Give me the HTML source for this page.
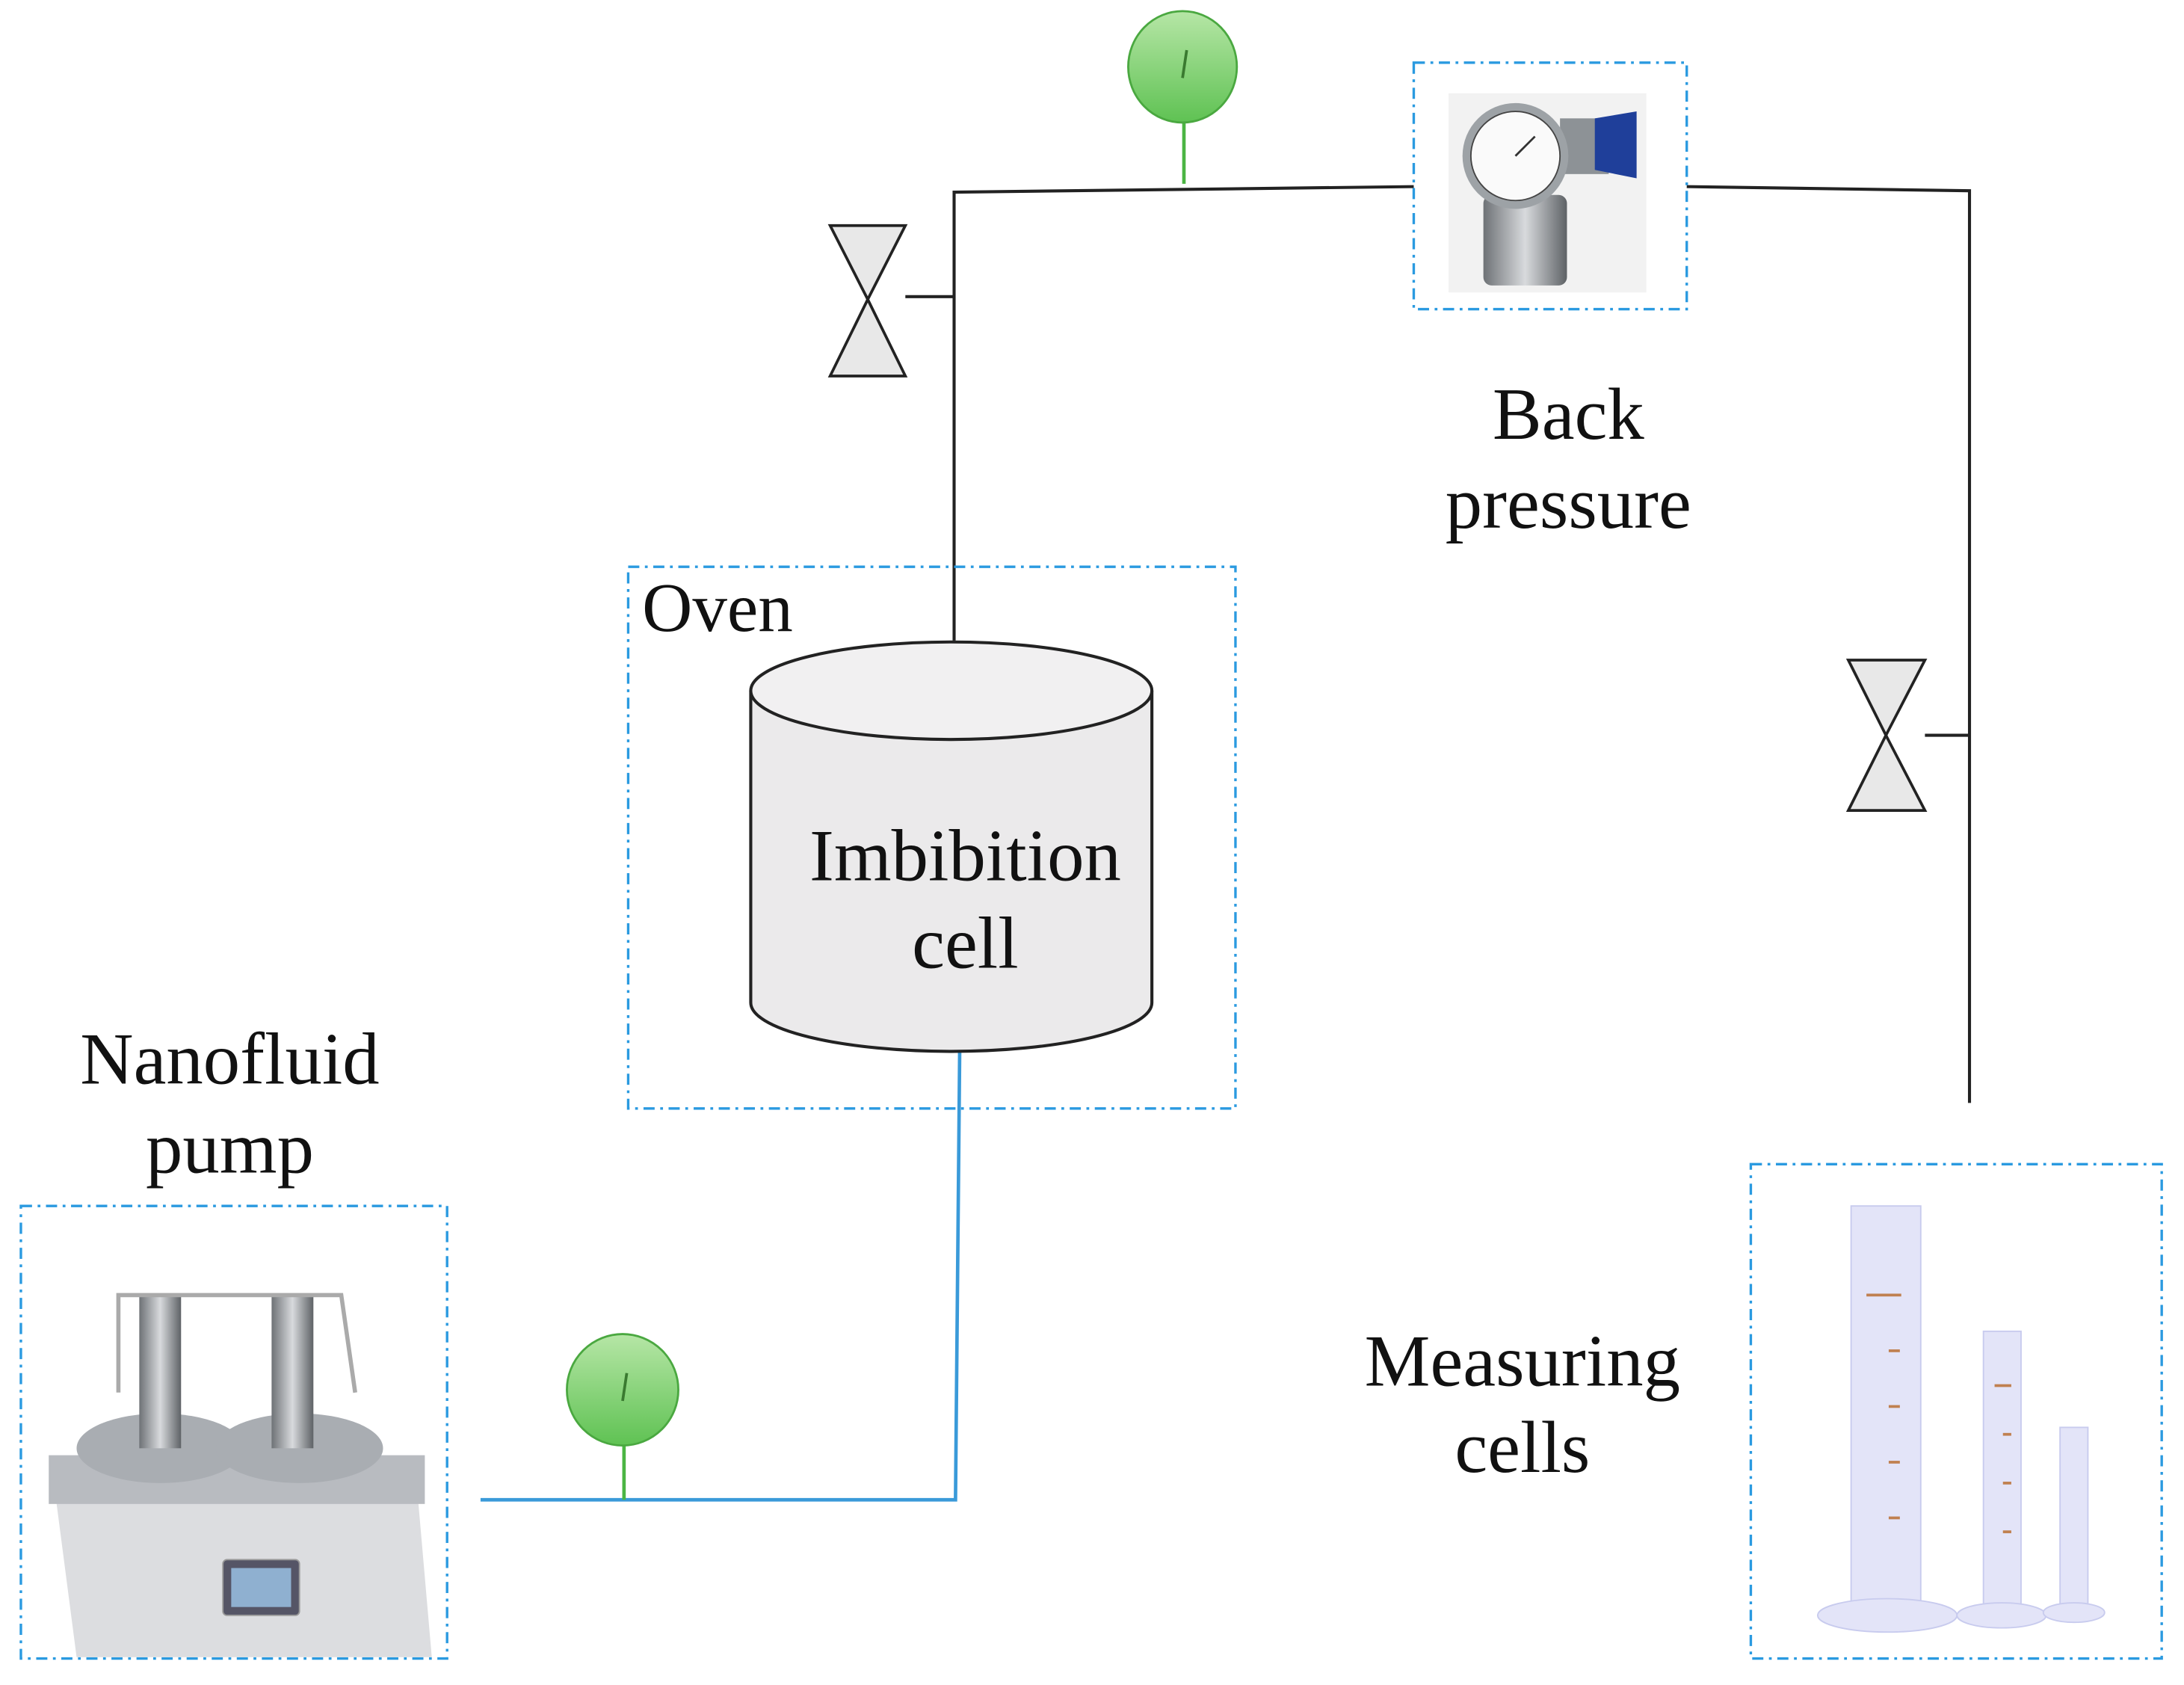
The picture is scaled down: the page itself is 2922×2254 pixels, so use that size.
<!DOCTYPE html>
<html><head><style>html,body{margin:0;padding:0;background:#fff}svg{display:block}</style></head><body>
<svg width="2922" height="2254" viewBox="0 0 1568 1210" preserveAspectRatio="none" xmlns="http://www.w3.org/2000/svg" font-family="Liberation Serif, serif">
<defs>
<linearGradient id="g" x1="0" y1="0" x2="0" y2="1"><stop offset="0" stop-color="#b6e6a6"/><stop offset="1" stop-color="#5fc253"/></linearGradient>
<linearGradient id="st" x1="0" y1="0" x2="1" y2="0"><stop offset="0" stop-color="#6e7276"/><stop offset=".5" stop-color="#d8dadd"/><stop offset="1" stop-color="#5e6266"/></linearGradient>
</defs>
<g stroke="#222" stroke-width="2.2" fill="none">
<polyline points="685,460 685,138 1015,134"/>
<polyline points="1211,134 1414,137 1414,792"/>
<line x1="650" y1="213" x2="685" y2="213"/>
<line x1="1382" y1="528" x2="1414" y2="528"/>
</g>
<g stroke="#222" stroke-width="2" fill="#e8e8e8">
<polygon points="596,162 650,162 623,215"/><polygon points="596,270 650,270 623,215"/>
<polygon points="1327,474 1382,474 1354,528"/><polygon points="1327,582 1382,582 1354,528"/>
</g>
<line x1="850" y1="88" x2="850" y2="132" stroke="#4bb543" stroke-width="2.5"/>
<ellipse cx="849" cy="48" rx="39" ry="40" fill="url(#g)" stroke="#4aa840" stroke-width="1.5"/>
<line x1="852" y1="36" x2="849" y2="56" stroke="#3a7a30" stroke-width="2"/>
<polyline points="689,755 686,1077 345,1077" stroke="#3a9ad9" stroke-width="2.5" fill="none"/>
<line x1="448" y1="1038" x2="448" y2="1077" stroke="#4bb543" stroke-width="2.5"/>
<ellipse cx="447" cy="998" rx="40" ry="40" fill="url(#g)" stroke="#4aa840" stroke-width="1.5"/>
<line x1="450" y1="986" x2="447" y2="1006" stroke="#3a7a30" stroke-width="2"/>
<g stroke="#2a9ae0" stroke-width="1.8" fill="none" stroke-dasharray="8,4,2,4">
<rect x="1015" y="45" width="196" height="177"/>
<rect x="451" y="407" width="436" height="389"/>
<rect x="15" y="866" width="306" height="325"/>
<rect x="1257" y="836" width="295" height="355"/>
</g>
<path d="M539,496 L539,720 A144,35 0 0 0 827,720 L827,496" fill="#ebeaeb" stroke="#222" stroke-width="2.2"/>
<ellipse cx="683" cy="496" rx="144" ry="35" fill="#f1f0f1" stroke="#222" stroke-width="2.2"/>
<rect x="1040" y="67" width="142" height="143" fill="#f2f2f2"/>
<rect x="1065" y="140" width="60" height="65" rx="6" fill="url(#st)"/>
<rect x="1120" y="85" width="35" height="40" fill="#8d9296"/>
<path d="M1145,85 L1175,80 L1175,128 L1145,122 Z" fill="#1f3f9a"/>
<circle cx="1088" cy="112" r="38" fill="#9da2a6"/>
<circle cx="1088" cy="112" r="32" fill="#fafafa" stroke="#444" stroke-width="1"/>
<line x1="1088" y1="112" x2="1102" y2="98" stroke="#333" stroke-width="1.5"/>
<path d="M40,1075 L300,1075 L310,1190 L55,1190 Z" fill="#dcdde0"/>
<rect x="35" y="1045" width="270" height="35" fill="#b8bbc0"/>
<ellipse cx="115" cy="1040" rx="60" ry="25" fill="#a9adb2"/>
<ellipse cx="215" cy="1040" rx="60" ry="25" fill="#a9adb2"/>
<rect x="100" y="930" width="30" height="110" fill="url(#st)"/>
<rect x="195" y="930" width="30" height="110" fill="url(#st)"/>
<path d="M85,1000 L85,930 L245,930 L255,1000" fill="none" stroke="#aaa" stroke-width="3"/>
<rect x="160" y="1120" width="55" height="40" rx="3" fill="#556" stroke="#999"/>
<rect x="166" y="1126" width="43" height="28" fill="#8fb0d0"/>
<g fill="#e3e4f8" stroke="#c8cbee" stroke-width="1">
<rect x="1329" y="866" width="50" height="285"/>
<ellipse cx="1355" cy="1160" rx="50" ry="12"/>
<rect x="1424" y="956" width="27" height="200"/>
<ellipse cx="1437" cy="1160" rx="32" ry="9"/>
<rect x="1479" y="1025" width="20" height="130"/>
<ellipse cx="1489" cy="1158" rx="22" ry="7"/>
</g>
<g stroke="#c08050" stroke-width="2">
<line x1="1340" y1="930" x2="1365" y2="930"/><line x1="1356" y1="970" x2="1364" y2="970"/><line x1="1356" y1="1010" x2="1364" y2="1010"/><line x1="1356" y1="1050" x2="1364" y2="1050"/><line x1="1356" y1="1090" x2="1364" y2="1090"/>
<line x1="1432" y1="995" x2="1444" y2="995"/><line x1="1438" y1="1030" x2="1444" y2="1030"/><line x1="1438" y1="1065" x2="1444" y2="1065"/><line x1="1438" y1="1100" x2="1444" y2="1100"/>
</g>
<g fill="#111" font-size="53" text-anchor="middle">
<text x="1126" y="315">Back</text>
<text x="1126" y="379">pressure</text>
<text x="693" y="632">Imbibition</text>
<text x="693" y="695">cell</text>
<text x="165" y="778">Nanofluid</text>
<text x="165" y="842">pump</text>
<text x="1093" y="995">Measuring</text>
<text x="1093" y="1057">cells</text>
<text x="461" y="453" font-size="50" text-anchor="start">Oven</text>
</g>
</svg>
</body></html>
